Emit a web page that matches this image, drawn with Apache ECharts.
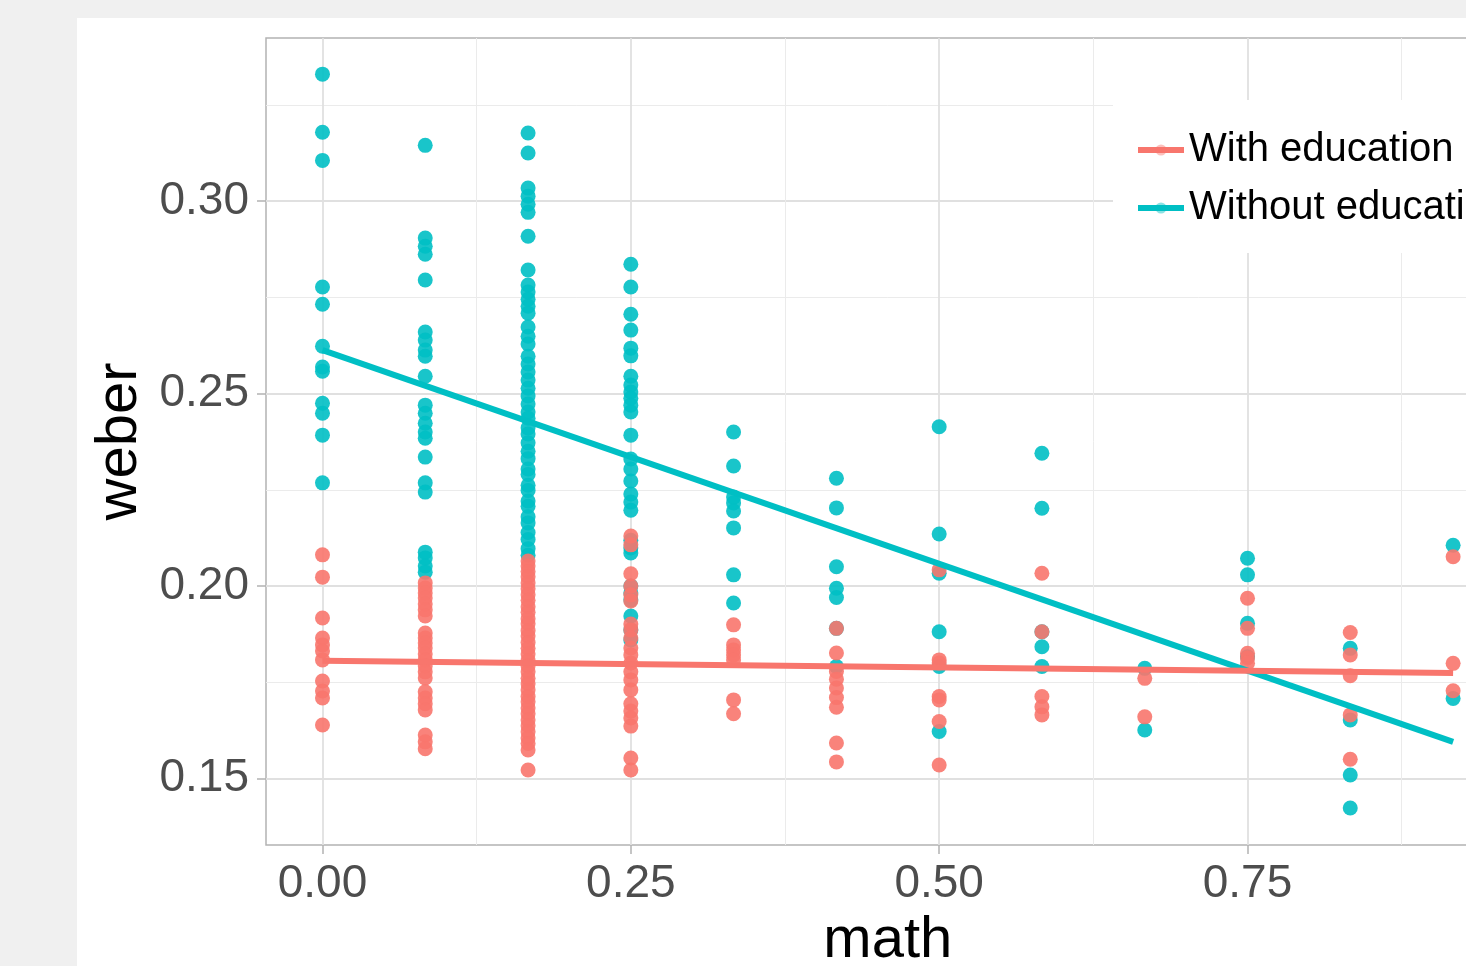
<!DOCTYPE html>
<html>
<head>
<meta charset="utf-8">
<script src="https://cdn.jsdelivr.net/npm/echarts@6/dist/echarts.min.js"></script>
<style>
  html, body { margin: 0; padding: 0; background: #f0f0f0; overflow: hidden; width: 1466px; height: 966px; }
  #chart { position: absolute; left: 77px; top: 18px; width: 1500px; height: 960px; background: #ffffff; }
</style>
</head>
<body>
<div id="chart"></div>
<script>
// x positions (math)
const mathValues = [0, 0.0833, 0.1667, 0.25, 0.3333, 0.4167, 0.5, 0.5833, 0.6667, 0.75, 0.8333, 0.9167];

// weber values per math column, "Without education"
const withoutEducation = [
  [0.3330, 0.3179, 0.3106, 0.2777, 0.2732, 0.2623, 0.2569, 0.2558, 0.2475, 0.2449, 0.2392, 0.2268],
  [0.3145, 0.2904, 0.2883, 0.2862, 0.2795, 0.2660, 0.2639, 0.2613, 0.2597, 0.2545, 0.2470, 0.2449, 0.2423, 0.2400, 0.2384, 0.2335, 0.2268, 0.2244, 0.2088, 0.2073, 0.2052, 0.2036],
  [0.3177, 0.3125, 0.3034, 0.3013, 0.2992, 0.2971, 0.2909, 0.2821, 0.2782, 0.2764, 0.2745, 0.2727, 0.2709, 0.2673, 0.2649, 0.2629, 0.2597, 0.2577, 0.2556, 0.2535, 0.2514, 0.2494, 0.2473, 0.2452, 0.2436, 0.2411, 0.2395, 0.2372, 0.2350, 0.2331, 0.2304, 0.2290, 0.2262, 0.2248, 0.2221, 0.2207, 0.2180, 0.2164, 0.2139, 0.2121, 0.2097, 0.2080],
  [0.2836, 0.2777, 0.2706, 0.2665, 0.2618, 0.2598, 0.2545, 0.2522, 0.2504, 0.2488, 0.2470, 0.2452, 0.2392, 0.2330, 0.2304, 0.2273, 0.2239, 0.2218, 0.2197, 0.2119, 0.2099, 0.2086, 0.2000, 0.1982, 0.1964, 0.1922, 0.1886, 0.1860],
  [0.2400, 0.2312, 0.2231, 0.2216, 0.2195, 0.2151, 0.2029, 0.1956],
  [0.2280, 0.2203, 0.2050, 0.1994, 0.1970, 0.1890, 0.1791],
  [0.2414, 0.2135, 0.2033, 0.1881, 0.1791, 0.1622],
  [0.2345, 0.2202, 0.1881, 0.1842, 0.1791],
  [0.1786, 0.1626],
  [0.2072, 0.2029, 0.1903, 0.1816],
  [0.1838, 0.1652, 0.1509, 0.1423],
  [0.2106, 0.1708]
];

// weber values per math column, "With education"
const withEducation = [
  [0.2081, 0.2023, 0.1917, 0.1865, 0.1847, 0.1831, 0.1808, 0.1753, 0.1727, 0.1709, 0.1639],
  [0.2008, 0.1995, 0.1982, 0.1969, 0.1953, 0.1938, 0.1922, 0.1878, 0.1865, 0.1852, 0.1839, 0.1823, 0.1808, 0.1792, 0.1777, 0.1761, 0.1725, 0.1709, 0.1694, 0.1678, 0.1613, 0.1595, 0.1577],
  [0.2065, 0.2052, 0.2038, 0.2024, 0.2008, 0.1993, 0.1977, 0.1963, 0.1946, 0.1932, 0.1915, 0.1902, 0.1884, 0.1870, 0.1853, 0.1838, 0.1823, 0.1806, 0.1792, 0.1777, 0.1760, 0.1746, 0.1730, 0.1713, 0.1699, 0.1683, 0.1668, 0.1652, 0.1637, 0.1621, 0.1605, 0.1591, 0.1574, 0.1522],
  [0.2130, 0.2107, 0.2032, 0.2000, 0.1977, 0.1961, 0.1901, 0.1886, 0.1865, 0.1839, 0.1821, 0.1800, 0.1777, 0.1756, 0.1730, 0.1694, 0.1675, 0.1657, 0.1636, 0.1553, 0.1522],
  [0.1899, 0.1847, 0.1834, 0.1821, 0.1808, 0.1704, 0.1668],
  [0.1890, 0.1826, 0.1778, 0.1758, 0.1735, 0.1710, 0.1685, 0.1592, 0.1543],
  [0.2042, 0.1808, 0.1800, 0.1713, 0.1704, 0.1648, 0.1535],
  [0.2033, 0.1881, 0.1713, 0.1686, 0.1665],
  [0.1760, 0.1660],
  [0.1968, 0.1890, 0.1825, 0.1813, 0.1799],
  [0.1879, 0.1821, 0.1767, 0.1665, 0.1550],
  [0.2076, 0.1799, 0.1728]
];

// fitted line end points
const fitX = [0, 0.9167];
const withEducationFit = [0.1806, 0.1774];
const withoutEducationFit = [0.2613, 0.1595];

// ticks
const xMajorTicks = [0, 0.25, 0.5, 0.75];
const xMinorTicks = [0.125, 0.375, 0.625, 0.875];
const yMajorTicks = [0.15, 0.20, 0.25, 0.30];
const yMinorTicks = [0.175, 0.225, 0.275, 0.325];

const seriesNames = ['With education', 'Without education'];
const RED = '#F8766D', CYAN = '#00BFC4';
const FONT = '"Liberation Sans", Arial, Helvetica, sans-serif';

function toPoints(groups) {
  const out = [];
  groups.forEach((vals, i) => vals.forEach(v => out.push([mathValues[i], v])));
  return out;
}
function toLine(ys) { return fitX.map((x, i) => [x, ys[i]]); }

const chart = echarts.init(document.getElementById('chart'), null, { renderer: 'canvas' });

const xRange = { min: -0.0458, max: 0.9625 };
const yRange = { min: 0.1327, max: 0.3424 };

chart.setOption({
  animation: false,
  backgroundColor: '#ffffff',
  grid: {
    left: 189, top: 20, width: 1243.6, height: 807,
    show: true, borderColor: '#b3b3b3', borderWidth: 1.5, backgroundColor: 'transparent'
  },
  xAxis: [
    {
      type: 'value', min: xRange.min, max: xRange.max,
      name: 'math', nameLocation: 'middle', nameGap: 60,
      nameTextStyle: { fontSize: 58, color: '#000', fontFamily: FONT },
      axisLine: { show: false, onZero: false },
      axisTick: { show: true, customValues: xMajorTicks, length: 9, lineStyle: { color: '#b3b3b3', width: 1.5 } },
      axisLabel: { customValues: xMajorTicks, formatter: v => v.toFixed(2), fontSize: 46, color: '#4d4d4d', fontFamily: FONT, margin: 16 },
      splitLine: { show: true, lineStyle: { color: '#e0e0e0', width: 1.8 } }
    },
    {
      type: 'value', min: xRange.min, max: xRange.max, position: 'top',
      axisLine: { show: false, onZero: false },
      axisTick: { show: false, customValues: xMinorTicks },
      axisLabel: { show: false, customValues: xMinorTicks },
      splitLine: { show: true, lineStyle: { color: '#ebebeb', width: 1 } }
    }
  ],
  yAxis: [
    {
      type: 'value', min: yRange.min, max: yRange.max,
      name: 'weber', nameLocation: 'middle', nameGap: 110,
      nameTextStyle: { fontSize: 58, color: '#000', fontFamily: FONT },
      axisLine: { show: false, onZero: false },
      axisTick: { show: true, customValues: yMajorTicks, length: 9, lineStyle: { color: '#b3b3b3', width: 1.5 } },
      axisLabel: { customValues: yMajorTicks, formatter: v => v.toFixed(2), fontSize: 46, color: '#4d4d4d', fontFamily: FONT, margin: 17, padding: [6, 0, 0, 0] },
      splitLine: { show: true, lineStyle: { color: '#e0e0e0', width: 1.8 } }
    },
    {
      type: 'value', min: yRange.min, max: yRange.max, position: 'right',
      axisLine: { show: false, onZero: false },
      axisTick: { show: false, customValues: yMinorTicks },
      axisLabel: { show: false, customValues: yMinorTicks },
      splitLine: { show: true, lineStyle: { color: '#ebebeb', width: 1 } }
    }
  ],
  legend: {
    orient: 'vertical', left: 1036, top: 82,
    data: seriesNames,
    backgroundColor: '#ffffff',
    padding: [30, 60, 25, 22],
    itemWidth: 46, itemHeight: 14, itemGap: 18,
    itemStyle: { opacity: 0.45 },
    lineStyle: { width: 6 },
    textStyle: { fontSize: 40, color: '#000', fontFamily: FONT, lineHeight: 40 }
  },
  series: [
    {
      name: seriesNames[1], type: 'line', data: toLine(withoutEducationFit), z: 3,
      showSymbol: false, symbol: 'circle', color: CYAN,
      lineStyle: { color: CYAN, width: 6 }, silent: true
    },
    {
      name: seriesNames[0], type: 'line', data: toLine(withEducationFit), z: 3,
      showSymbol: false, symbol: 'circle', color: RED,
      lineStyle: { color: RED, width: 6 }, silent: true
    },
    {
      name: seriesNames[1], type: 'scatter', data: toPoints(withoutEducation), z: 2,
      symbol: 'circle', symbolSize: 15, itemStyle: { color: CYAN, opacity: 0.9 }
    },
    {
      name: seriesNames[0], type: 'scatter', data: toPoints(withEducation), z: 2,
      symbol: 'circle', symbolSize: 15, itemStyle: { color: RED, opacity: 0.9 }
    }
  ]
});
</script>
</body>
</html>
